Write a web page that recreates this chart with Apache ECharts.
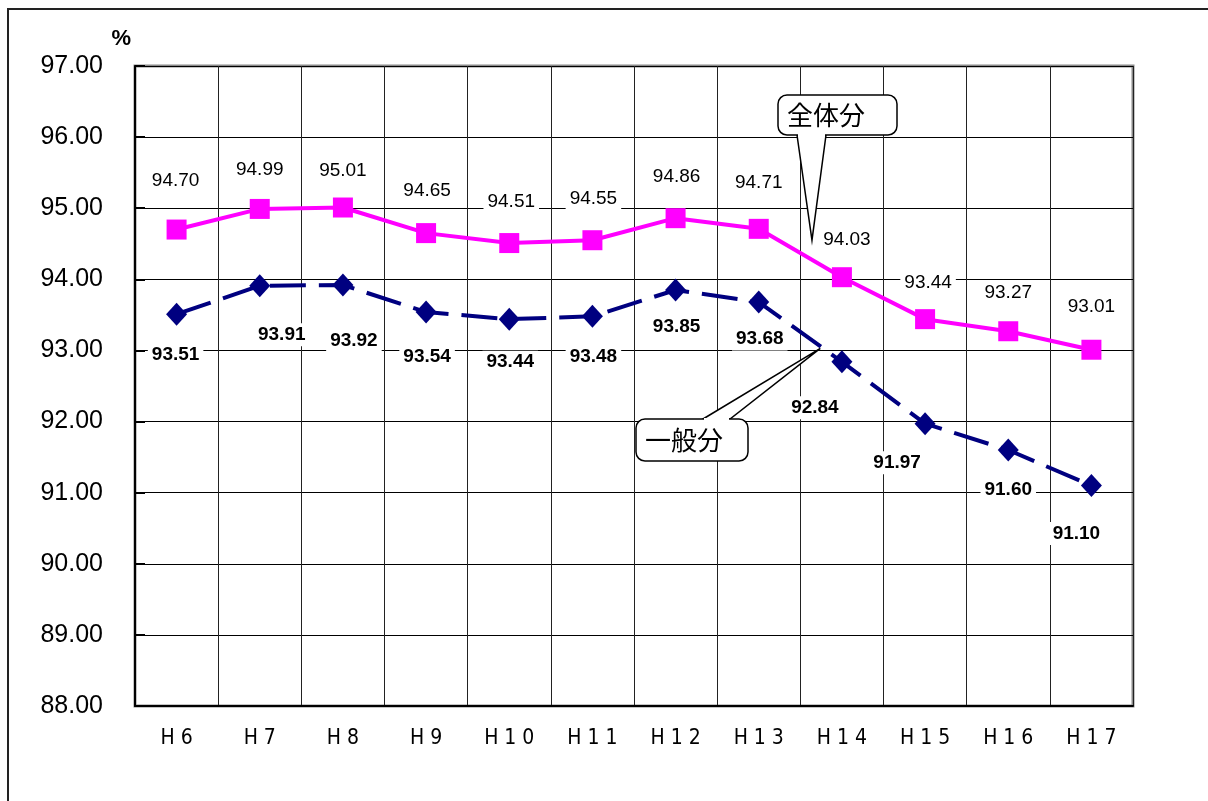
<!DOCTYPE html>
<html>
<head>
<meta charset="utf-8">
<script src="https://cdn.jsdelivr.net/npm/echarts@6/dist/echarts.min.js"></script>
<style>
  html, body { margin: 0; padding: 0; background: #fff; }
  #chart { width: 1208px; height: 801px; }
</style>
</head>
<body>
<div id="chart"></div>
<script>
// Fiscal years (Heisei)
const categories = ['H 6', 'H 7', 'H 8', 'H 9', 'H 1 0', 'H 1 1', 'H 1 2', 'H 1 3', 'H 1 4', 'H 1 5', 'H 1 6', 'H 1 7'];
// 全体分 (overall) rate, %
const totalRate = [94.70, 94.99, 95.01, 94.65, 94.51, 94.55, 94.86, 94.71, 94.03, 93.44, 93.27, 93.01];
// 一般分 (general) rate, %
const generalRate = [93.51, 93.91, 93.92, 93.54, 93.44, 93.48, 93.85, 93.68, 92.84, 91.97, 91.60, 91.10];

// Label offsets from each point (px) so labels avoid the lines
const totalLabelOffset = [[-1, -49], [0, -39], [0, -37], [1, -42], [2, -41], [1, -41], [1, -41], [0, -46], [5, -37], [3, -36], [0, -38], [0, -43]];
const generalLabelOffset = [[-1, 41], [22, 49], [11, 56], [1, 45], [1, 43], [1, 40], [1, 37], [1, 37], [-27, 46], [-28, 39], [0, 40], [-15, 48]];

const SANS = '"Liberation Sans", Arial, sans-serif';
const CONDENSED = '"DejaVu Sans Condensed", "DejaVu Sans", sans-serif';

const chart = echarts.init(document.getElementById('chart'), null, { renderer: 'canvas' });

function withLabels(values, offsets, labelStyle) {
  return values.map((v, i) => ({
    value: v,
    label: Object.assign({
      show: true,
      position: 'inside',
      offset: offsets[i],
      align: 'center',
      verticalAlign: 'middle',
      formatter: (p) => p.value.toFixed(2),
      backgroundColor: '#fff',
      padding: [2, 4]
    }, labelStyle)
  }));
}

const option = {
  animation: false,
  backgroundColor: '#fff',
  grid: {
    left: 135, right: 75, top: 66, bottom: 95,
    show: true, borderColor: '#8a8a8a', borderWidth: 3, backgroundColor: 'transparent'
  },
  xAxis: {
    type: 'category',
    data: categories,
    boundaryGap: true,
    axisLine: { lineStyle: { color: '#000', width: 2 } },
    axisTick: { show: false },
    splitLine: { show: true, interval: 0, lineStyle: { color: '#222', width: 1 } },
    axisLabel: {
      interval: 0, margin: 22,
      fontFamily: CONDENSED, fontSize: 21, color: '#000'
    }
  },
  yAxis: {
    type: 'value',
    min: 88, max: 97, interval: 1,
    name: '%',
    nameLocation: 'end',
    nameGap: 16,
    nameTextStyle: {
      fontFamily: SANS, fontSize: 22, fontWeight: 'bold', color: '#000',
      align: 'right', padding: [0, 4, 0, 0]
    },
    axisLine: { show: true, lineStyle: { color: '#000', width: 2 } },
    axisTick: { show: true, inside: true, length: 10, lineStyle: { color: '#000', width: 2 } },
    splitLine: { show: true, lineStyle: { color: '#000', width: 1 } },
    axisLabel: {
      margin: 32,
      formatter: (v) => v.toFixed(2),
      fontFamily: SANS, fontSize: 25, color: '#000'
    }
  },
  series: [
    {
      name: '全体分',
      type: 'line',
      data: withLabels(totalRate, totalLabelOffset, {
        fontFamily: SANS, fontSize: 19, color: '#000'
      }),
      symbol: 'rect',
      symbolSize: 20,
      itemStyle: { color: '#ff00ff' },
      lineStyle: { color: '#ff00ff', width: 4 },
      z: 3
    },
    {
      name: '一般分',
      type: 'line',
      data: withLabels(generalRate, generalLabelOffset, {
        fontFamily: SANS, fontSize: 19, fontWeight: 'bold', color: '#000'
      }),
      symbol: 'diamond',
      symbolSize: [21, 23],
      itemStyle: { color: '#000080' },
      lineStyle: { color: '#000080', width: 4, type: [36, 13] },
      z: 3
    }
  ]
};

chart.setOption(option);

// Speech-bubble callout: rounded box with a tapering tail to a tip point
function callout(text, box, tailA, tailB, tip) {
  const r = 9;
  const [x0, y0, x1, y1] = box;
  const tailBelow = tailA[1] >= y1;
  const patchY = tailBelow ? [y1 - 2, y1 + 1] : [y0 - 1, y0 + 2];
  return {
    type: 'group',
    z: 100,
    children: [
      {
        type: 'polygon',
        shape: { points: [tailA, tip, tailB] },
        style: { fill: '#fff', stroke: '#000', lineWidth: 1.5 }
      },
      {
        type: 'rect',
        shape: { x: x0, y: y0, width: x1 - x0, height: y1 - y0, r: r },
        style: { fill: '#fff', stroke: '#000', lineWidth: 1.5 }
      },
      {
        // open the box edge where the tail joins
        type: 'polygon',
        shape: { points: [[tailA[0] + 1, patchY[0]], [tailB[0] - 1, patchY[0]], [tailB[0] - 1, patchY[1]], [tailA[0] + 1, patchY[1]]] },
        style: { fill: '#fff', stroke: null }
      },
      {
        type: 'text',
        style: {
          text: text, x: x0 + 9, y: (y0 + y1) / 2,
          verticalAlign: 'middle', align: 'left',
          font: '26px "Noto Sans CJK JP"', fill: '#000'
        }
      }
    ]
  };
}

// Anchor callout tips between the H13 and H14 points
const p13 = chart.convertToPixel({ gridIndex: 0 }, [7, 94.55]);
const p14 = chart.convertToPixel({ gridIndex: 0 }, [8, 94.55]);
const tipTotal = [p13[0] + (p14[0] - p13[0]) * 0.64, p13[1]];
const q = chart.convertToPixel({ gridIndex: 0 }, [7, 93.03]);
const tipGeneral = [p13[0] + (p14[0] - p13[0]) * 0.74, q[1]];

chart.setOption({
  graphic: [
    {
      type: 'rect',
      shape: { x: 8, y: 9, width: 1400, height: 1000 },
      style: { fill: null, stroke: '#222', lineWidth: 2 },
      silent: true
    },
    callout('全体分', [778, 95, 897, 135], [797, 135], [826, 135], tipTotal),
    callout('一般分', [636, 419, 748, 461], [703, 419], [730, 419], tipGeneral)
  ]
});
</script>
</body>
</html>
